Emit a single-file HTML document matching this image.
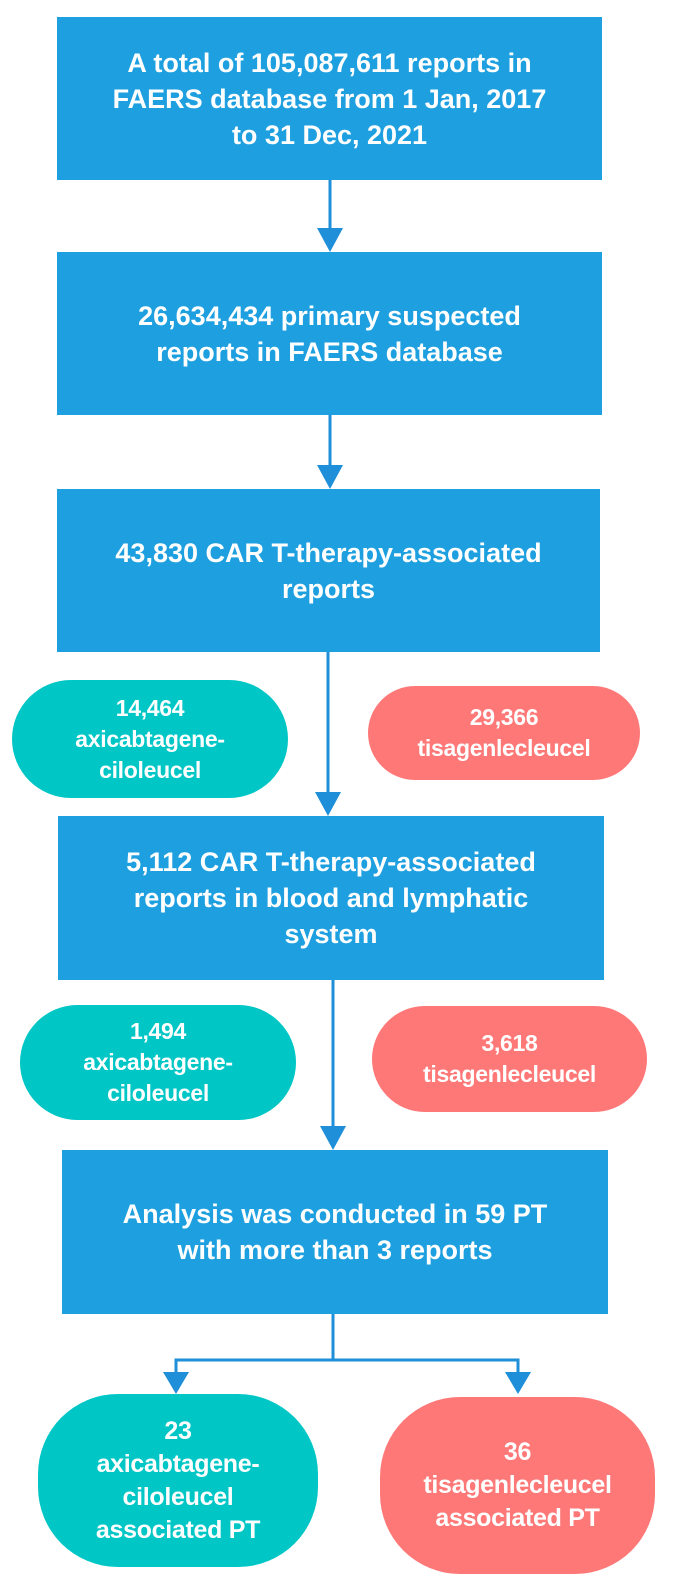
<!DOCTYPE html>
<html><head><meta charset="utf-8"><style>
body{margin:0;width:680px;height:1596px;background:#fff;position:relative;font-family:"Liberation Sans",sans-serif;font-weight:bold;color:#fff;overflow:hidden}
.b{position:absolute;background:#1ea0e0;display:flex;align-items:center;justify-content:center;text-align:center;font-size:27px;line-height:36px}
.p{position:absolute;display:flex;align-items:center;justify-content:center;text-align:center;font-size:23px;line-height:31px;border-radius:60px;letter-spacing:-0.3px}
.t{background:#00c6c6}.r{background:#ff7878}
svg{position:absolute;left:0;top:0}
</style></head><body>
<svg width="680" height="1596">
<g stroke="#1e8fd8" stroke-width="3" fill="none">
<line x1="330" y1="180" x2="330" y2="230"/>
<line x1="330" y1="415" x2="330" y2="467"/>
<line x1="328" y1="652" x2="328" y2="794"/>
<line x1="333" y1="980" x2="333" y2="1128"/>
<polyline points="333,1314 333,1360 176,1360 176,1375"/>
<polyline points="333,1360 518,1360 518,1375"/>
</g>
<g fill="#1e8fd8">
<polygon points="317,228 343,228 330,252"/>
<polygon points="317,465 343,465 330,489"/>
<polygon points="315,792 341,792 328,816"/>
<polygon points="320,1126 346,1126 333,1150"/>
<polygon points="163,1372 189,1372 176,1394"/>
<polygon points="505,1372 531,1372 518,1394"/>
</g>
</svg>
<div class="b" style="left:57px;top:17px;width:545px;height:163px">A total of 105,087,611 reports in<br>FAERS database from 1 Jan, 2017<br>to 31 Dec, 2021</div>
<div class="b" style="left:57px;top:252px;width:545px;height:163px">26,634,434 primary suspected<br>reports in FAERS database</div>
<div class="b" style="left:57px;top:489px;width:543px;height:163px">43,830 CAR T-therapy-associated<br>reports</div>
<div class="p t" style="left:12px;top:680px;width:276px;height:118px">14,464<br>axicabtagene-<br>ciloleucel</div>
<div class="p r" style="left:368px;top:686px;width:272px;height:94px;border-radius:47px">29,366<br>tisagenlecleucel</div>
<div class="b" style="left:58px;top:816px;width:546px;height:164px">5,112 CAR T-therapy-associated<br>reports in blood and lymphatic<br>system</div>
<div class="p t" style="left:20px;top:1005px;width:276px;height:115px">1,494<br>axicabtagene-<br>ciloleucel</div>
<div class="p r" style="left:372px;top:1006px;width:275px;height:106px;border-radius:53px">3,618<br>tisagenlecleucel</div>
<div class="b" style="left:62px;top:1150px;width:546px;height:164px">Analysis was conducted in 59 PT<br>with more than 3 reports</div>
<div class="p t" style="left:38px;top:1394px;width:280px;height:173px;border-radius:80px;font-size:25px;line-height:33px">23<br>axicabtagene-<br>ciloleucel<br>associated PT</div>
<div class="p r" style="left:380px;top:1397px;width:275px;height:177px;border-radius:80px;font-size:25px;line-height:33px">36<br>tisagenlecleucel<br>associated PT</div>
</body></html>
